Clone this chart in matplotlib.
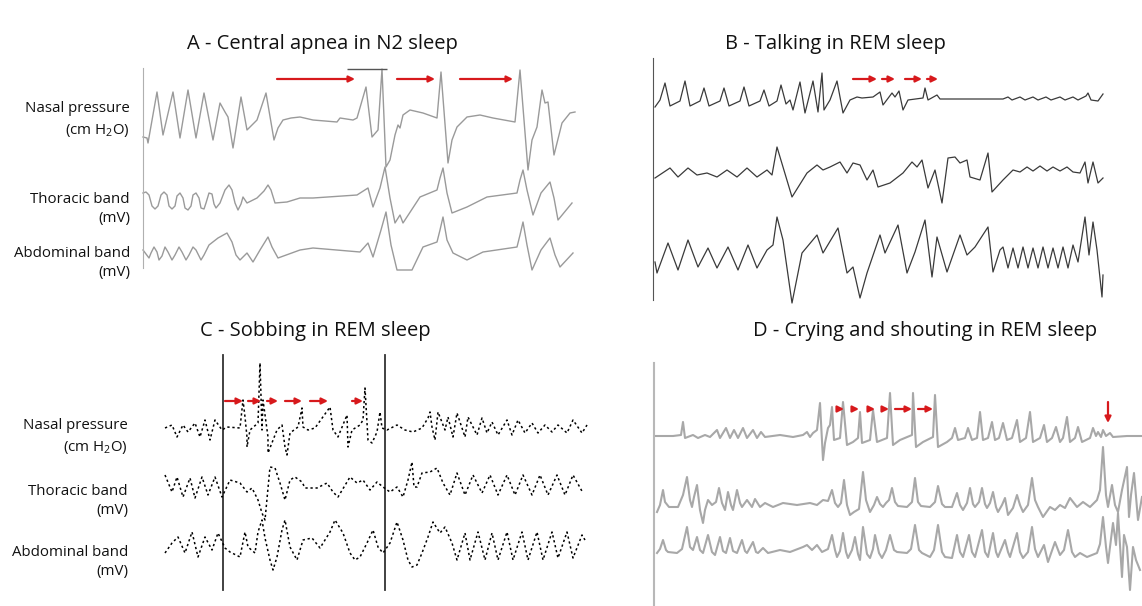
import numpy as np
import matplotlib.pyplot as plt

plt.rcParams['font.family'] = ['Open Sans', 'DejaVu Sans']
plt.rcParams['mathtext.fontset'] = 'custom'
plt.rcParams['mathtext.rm'] = 'Open Sans'

W, H = 1142, 606

# traces: (time s, signal a.u.)
a_nasal = [(0.0, -17), (0.4, -18), (0.5, -23), (1.4, 28), (2.0, -15), (3.0, 28), (3.7, -18),
           (4.5, 30), (5.3, -18), (6.1, 27), (7.0, -20), (7.7, 17), (8.2, 8), (8.5, 3),
           (9.0, -28), (9.8, 23), (10.4, -10), (11.4, 0), (12.3, 27), (13.1, -20), (13.5, -8),
           (14.0, 0), (14.8, 2), (15.7, 3), (17.0, 0), (19.4, -2), (19.7, 2), (21.0, 0),
           (21.4, 2), (22.3, 33), (22.9, -17), (23.5, -10), (23.9, 51), (24.3, -47), (24.7, -40),
           (25.2, -15), (25.5, -5), (25.7, -8), (26.0, 5), (26.7, 10), (28.0, 7), (29.4, 2),
           (29.8, 48), (30.5, -43), (30.9, -20), (31.4, -7), (32.4, 3), (33.7, 5), (35.0, 2),
           (37.2, -2), (37.7, 50), (38.5, -50), (38.9, -20), (39.4, -7), (39.9, 30), (40.2, 17),
           (40.5, 18), (41.1, -35), (41.9, -3), (42.7, 7), (43.2, 8)]
a_thor = [(0.0, 5), (0.3, 6), (0.6, 3), (0.9, -8), (1.2, -11), (1.5, -8), (1.8, 3), (2.1, 6),
          (2.4, 3), (2.6, -8), (2.9, -11), (3.2, -8), (3.4, 2), (3.7, 5), (4.0, 0), (4.2, -10),
          (4.5, -12), (4.8, -8), (5.0, 3), (5.3, 5), (5.6, 0), (5.8, -10), (6.1, -11), (6.3, -5),
          (6.6, 5), (6.9, 4), (7.1, -6), (7.3, -10), (7.7, -5), (8.2, 8), (8.6, 13), (8.9, 8),
          (9.2, -5), (9.5, -12), (9.8, -6), (10.0, 1), (10.4, -5), (11.4, 0), (12.1, 7),
          (12.5, 13), (12.8, 8), (13.2, -5), (14.4, -4), (15.7, 0), (17.0, 0), (21.4, 3),
          (22.5, 10), (23.0, -9), (23.7, 10), (24.2, 31), (24.7, 0), (25.2, -25), (25.7, -17),
          (26.0, -25), (27.7, 1), (29.4, 8), (29.7, 20), (30.0, 30), (30.4, 5), (30.9, -15),
          (32.4, -9), (34.4, 1), (37.4, 5), (37.7, 18), (38.0, 28), (38.4, 8), (39.0, -17),
          (39.8, 5), (40.7, 16), (41.1, 0), (41.5, -22), (42.9, -5)]
a_abd = [(0.0, 0), (0.3, -4), (0.6, -8), (0.8, -3), (1.1, 3), (1.4, -2), (1.6, -10), (1.9, -6),
         (2.2, 3), (2.5, -2), (2.9, -10), (3.2, -5), (3.6, 3), (3.9, -2), (4.3, -10), (4.6, -5),
         (5.0, 3), (5.3, 0), (5.8, -10), (6.1, -5), (6.6, 5), (7.5, 12), (8.4, 17), (8.9, 8),
         (9.3, -5), (9.7, -10), (10.4, -3), (11.0, -12), (11.7, 0), (12.5, 13), (12.9, 3),
         (13.5, -8), (15.7, 0), (17.0, 2), (21.7, -2), (22.5, 7), (23.0, -7), (23.8, 20),
         (24.3, 38), (24.8, 5), (25.4, -20), (26.9, -20), (28.0, 3), (29.4, 8), (29.7, 20),
         (30.0, 33), (30.4, 10), (31.0, -3), (32.4, -10), (34.0, -2), (37.4, 3), (37.7, 15),
         (38.0, 28), (38.4, 5), (38.9, -20), (39.8, 0), (40.7, 12), (41.2, -5), (41.7, -17),
         (43.0, -3)]

b_nasal = [(0.2, -7), (0.7, 0), (1.2, 17), (1.7, -6), (2.7, -1), (3.2, 19), (3.7, -6), (4.7, -1),
           (5.1, 12), (5.6, -6), (6.7, -1), (7.1, 12), (7.6, -6), (8.7, -1), (9.1, 13), (9.6, -6),
           (10.7, -1), (11.1, 10), (11.6, -6), (12.4, -1), (12.8, 15), (13.3, -4), (13.7, 0),
           (14.0, -10), (14.7, 18), (15.2, -13), (16.0, 19), (16.5, -12), (16.9, 27), (17.1, -10),
           (17.7, 0), (18.4, 19), (19.0, -13), (19.7, 0), (20.4, 3), (20.9, 2), (22.0, 3),
           (22.7, 8), (23.0, -5), (23.9, 7), (24.2, 3), (24.6, 9), (25.0, -10), (25.5, 0),
           (27.0, 2), (27.2, 12), (27.5, 0), (28.4, 5), (28.7, 1), (35.0, 1), (35.5, 3),
           (35.9, 0), (36.7, 3), (37.2, 0), (38.0, 3), (38.5, 0), (39.3, 3), (39.8, 0),
           (40.7, 3), (41.2, 0), (42.0, 3), (42.5, 0), (43.3, 4), (43.5, 7), (43.8, 0),
           (44.5, -1), (45.0, 6)]
b_thor = [(0.2, 0), (1.7, 10), (2.5, 1), (3.5, 10), (4.4, 3), (5.4, 5), (6.4, 1), (7.4, 8),
          (8.4, 1), (9.4, 10), (10.4, 1), (11.4, 8), (11.9, 3), (12.4, 31), (13.9, -19),
          (15.4, 5), (16.4, 13), (17.0, 8), (17.7, 11), (18.7, 16), (19.4, 5), (20.0, 15),
          (20.7, 13), (21.4, -2), (22.0, 8), (22.5, -9), (23.7, -5), (25.0, 5), (25.9, 16),
          (26.4, 11), (26.9, 18), (27.5, -10), (28.2, 8), (28.9, -25), (29.5, 20), (30.2, 21),
          (30.7, 15), (31.4, 18), (31.7, 1), (32.7, -2), (33.5, 25), (33.9, -14), (35.0, -2),
          (36.0, 8), (36.7, 6), (37.4, 11), (38.0, 7), (38.7, 12), (39.4, 7), (40.0, 11),
          (40.7, 7), (41.4, 11), (42.0, 6), (42.7, 5), (43.2, 16), (43.5, -5), (44.0, 16),
          (44.5, -5), (45.0, 0)]
b_abd = [(0.2, -2), (0.4, -13), (1.5, 17), (2.5, -10), (3.5, 20), (4.5, -7), (5.5, 12),
         (6.4, -8), (7.5, 13), (8.5, -10), (9.5, 15), (10.4, -8), (11.4, 10), (12.0, 15),
         (12.4, 43), (13.0, 20), (13.9, -43), (14.9, 7), (16.4, 25), (17.0, 7), (18.5, 32),
         (19.4, -13), (20.0, -7), (20.7, -38), (21.4, -13), (22.7, 25), (23.2, 7), (24.5, 35),
         (25.4, -13), (26.2, 8), (27.2, 40), (27.9, -17), (28.4, 23), (29.4, -12), (30.7, 25),
         (31.4, 5), (32.2, 13), (33.5, 33), (34.0, -12), (34.7, 10), (35.0, 13), (35.5, -8),
         (36.0, 12), (36.5, -8), (37.0, 13), (37.5, -8), (38.0, 12), (38.5, -8), (39.0, 13),
         (39.5, -8), (40.0, 12), (40.5, -8), (41.0, 13), (41.5, -8), (42.0, 15), (42.5, -2),
         (43.2, 43), (43.6, 5), (44.0, 38), (44.4, 10), (44.9, -37), (45.0, -15)]

c_nasal = [(0.5, 0), (1.2, 3), (1.7, -9), (2.3, 3), (2.8, -4), (3.5, 5), (4.0, -9), (4.5, 8),
           (5.0, -12), (5.5, 8), (6.2, -2), (6.7, 1), (8.0, 0), (8.3, 28), (8.5, 11), (8.7, -9),
           (8.7, -19), (9.0, -2), (9.8, 5), (10.0, 65), (10.2, -2), (10.3, 28), (10.8, -9),
           (10.8, -25), (11.7, -2), (12.2, 3), (12.5, -19), (12.7, -27), (13.0, -5), (13.8, 1),
           (14.2, 20), (14.3, 1), (14.8, -2), (15.5, 0), (17.0, 21), (17.3, -2), (17.8, -9),
           (18.7, 13), (18.8, -19), (19.2, -2), (20.0, 3), (20.3, 8), (20.5, 40), (20.8, -12),
           (21.2, -15), (21.7, -4), (22.0, 16), (22.2, 0), (22.7, -2), (23.7, 3), (24.5, -2),
           (25.3, -4), (26.2, 0), (26.8, 10), (27.0, 16), (27.2, 1), (27.5, -12), (27.8, 16),
           (28.5, -2), (28.8, 11), (29.3, -9), (29.7, 15), (30.5, -9), (30.8, 11), (31.7, -7),
           (32.2, 10), (32.7, -5), (33.2, 6), (33.8, -7), (34.7, 8), (35.2, -7), (35.8, 8),
           (36.5, -5), (37.2, 5), (37.8, -5), (38.5, 3), (39.2, -4), (39.8, 3), (40.7, -5),
           (41.3, 8), (42.2, -5), (42.7, 3)]
c_thor = [(0.5, 10), (1.2, -7), (1.7, 8), (2.3, -12), (3.0, 7), (3.5, -13), (4.2, 8), (4.8, -10),
          (5.5, 8), (6.2, -12), (7.0, 5), (8.0, 2), (8.7, -7), (9.2, -3), (9.8, -15),
          (10.2, -28), (10.5, -35), (11.0, 18), (11.5, 17), (12.0, 2), (12.5, -15), (13.0, 5),
          (13.5, 8), (14.2, 3), (14.5, -3), (15.7, -3), (16.7, 2), (17.3, -7), (17.8, -12),
          (18.7, 3), (19.0, 8), (19.7, 2), (20.3, 5), (21.0, -5), (21.7, 3), (22.3, -2),
          (23.0, -7), (23.7, -2), (24.3, -12), (24.8, 5), (25.2, 23), (25.4, -2), (25.7, -2),
          (26.2, 12), (27.0, 13), (27.7, 17), (28.3, 2), (29.0, -10), (29.7, 12), (30.5, -10),
          (31.3, 10), (32.2, -8), (33.0, 10), (33.8, -10), (34.7, 10), (35.5, -10), (36.3, 10),
          (37.2, -10), (38.0, 10), (38.8, -10), (39.7, 10), (40.5, -10), (41.3, 10), (42.3, -8)]
c_abd = [(0.5, -8), (1.2, 2), (1.8, 8), (2.5, -8), (3.2, 13), (3.8, -12), (4.5, 8), (5.2, -5),
         (5.8, 12), (6.5, -3), (7.0, -7), (8.0, -12), (8.5, 13), (8.8, -2), (9.5, -8), (9.8, 13),
         (10.2, 25), (10.5, 7), (11.0, -15), (11.3, -25), (11.7, -12), (12.2, 15), (12.5, 25),
         (13.0, -2), (13.7, -15), (14.3, 5), (15.2, 7), (16.0, -3), (17.0, 13), (17.5, 25),
         (18.3, 12), (19.0, -8), (19.5, -15), (20.0, -12), (20.7, 2), (21.3, 15), (21.8, -2),
         (22.3, -8), (23.0, 2), (23.7, 23), (24.3, 5), (24.8, -15), (25.2, -22), (25.7, -20),
         (26.2, -8), (26.8, 8), (27.3, 23), (28.0, 12), (28.5, 18), (29.2, 2), (29.7, -15),
         (30.5, 12), (31.0, -15), (31.8, 13), (32.5, -15), (33.2, 12), (33.8, -15), (34.7, 13),
         (35.3, -15), (36.2, 13), (36.8, -15), (37.7, 13), (38.3, -15), (39.2, 13), (39.8, -13),
         (40.7, 13), (41.3, -13), (42.2, 10), (42.5, 5)]

d_nasal = [(0.1, 0), (1.9, 0), (2.7, 1), (2.9, 14), (3.1, -2), (3.9, 1), (4.4, -2), (5.1, 1),
           (5.6, -1), (6.3, 6), (6.6, -2), (7.2, 8), (7.6, -2), (8.0, 6), (8.4, -2), (8.9, 8),
           (9.3, -2), (9.9, 6), (10.3, -2), (10.7, 4), (11.1, -1), (12.6, 1), (13.9, -1),
           (14.9, 1), (15.3, 4), (15.6, -1), (15.9, 3), (16.3, 6), (16.6, 33), (16.9, -24),
           (17.1, -7), (17.4, 8), (17.6, 11), (17.8, 29), (18.0, -4), (18.6, -2), (18.9, 34),
           (19.3, -9), (19.9, -6), (20.4, -2), (20.6, 24), (20.8, -7), (21.6, -4), (21.9, 26),
           (22.3, -6), (23.3, -2), (23.6, 43), (23.9, -9), (24.6, -4), (25.8, 1), (25.9, 43),
           (26.2, -11), (26.9, -6), (27.9, -1), (28.1, 41), (28.4, -11), (29.3, -6), (29.8, -2),
           (30.1, 8), (30.4, -4), (31.1, -2), (31.4, 8), (31.8, -4), (32.3, -2), (32.6, 24),
           (32.9, -4), (33.4, -2), (33.8, 14), (34.1, -4), (34.5, -2), (34.9, 13), (35.3, -4),
           (35.8, -2), (36.3, 16), (36.6, -6), (37.2, -2), (37.6, 24), (37.9, -6), (38.6, -2),
           (39.0, 11), (39.3, -6), (39.8, -2), (40.2, 9), (40.6, -6), (40.9, -2), (41.3, 19),
           (41.6, -6), (42.1, -2), (42.4, 9), (42.8, -6), (43.6, -2), (43.9, 8), (44.2, 0),
           (44.4, 4), (44.7, -1), (44.9, 6), (45.2, 0), (45.6, 3), (45.9, -1), (47.3, 0),
           (48.8, 0)]
d_thor = [(0.3, -7), (0.6, 0), (0.9, 15), (1.1, 3), (1.5, -2), (2.4, -2), (2.9, 10), (3.3, 28),
          (3.6, 5), (3.8, -2), (4.0, 8), (4.3, 20), (4.6, -5), (4.9, -18), (5.1, -5), (5.4, 5),
          (5.8, 0), (6.2, 3), (6.5, 17), (6.8, 2), (7.1, -5), (7.4, 13), (7.7, 0), (7.9, -5),
          (8.3, 15), (8.6, 2), (8.8, -2), (9.3, 5), (9.8, -2), (10.1, 6), (10.6, -2), (11.1, 2),
          (11.9, -2), (12.9, 2), (14.3, 0), (15.6, 2), (16.3, 0), (16.9, 5), (17.4, 4),
          (17.8, 15), (18.1, 2), (18.4, -2), (18.7, 2), (19.0, 25), (19.3, 0), (19.6, -10),
          (20.0, -7), (20.5, -4), (20.9, 33), (21.2, 5), (21.6, -7), (22.0, 0), (22.3, 8),
          (22.6, 1), (22.9, -2), (23.2, 2), (23.5, 5), (23.8, 17), (24.1, 3), (24.4, -1),
          (25.3, -2), (25.8, 3), (26.1, 27), (26.4, 3), (26.7, -1), (27.6, -2), (28.1, 3),
          (28.4, 19), (28.8, 1), (29.1, -2), (29.8, -2), (30.3, 12), (30.6, 0), (30.9, -5),
          (31.3, 2), (31.6, 17), (31.9, 1), (32.1, -2), (32.5, 3), (32.8, 17), (33.1, 1),
          (33.3, -3), (33.6, 2), (33.9, 13), (34.2, -2), (34.4, -7), (34.8, 0), (35.1, 7),
          (35.4, -10), (35.9, -3), (36.3, 10), (36.6, 0), (36.9, -7), (37.4, 0), (37.8, 27),
          (38.1, 5), (38.4, -2), (38.9, -12), (39.6, -2), (40.1, -5), (40.6, 0), (41.1, -3),
          (41.6, 7), (42.3, -2), (42.9, 3), (43.6, -2), (44.3, 5), (44.6, 15), (44.9, 58),
          (45.2, 10), (45.4, -2), (45.8, 20), (46.1, 0), (46.4, -7), (46.8, 15), (47.3, 38),
          (47.5, -12), (47.7, 10), (48.0, 32), (48.4, -15), (48.8, 8)]
d_abd = [(0.3, -1), (0.6, 3), (0.9, 12), (1.2, 2), (1.4, 0), (2.3, -1), (2.8, 3), (3.3, 25),
         (3.6, 5), (3.9, 2), (4.3, 15), (4.6, 2), (4.9, -1), (5.4, 17), (5.8, 0), (6.1, -3),
         (6.6, 15), (6.9, 1), (7.2, -1), (7.6, 14), (7.9, 1), (8.3, -1), (8.8, 12), (9.1, 1),
         (9.3, -1), (9.9, 10), (10.2, 0), (10.4, -1), (10.9, 4), (11.4, -1), (12.6, 2),
         (13.6, 0), (14.9, 5), (15.3, 7), (15.8, 2), (16.3, 7), (16.8, 0), (17.4, 3),
         (17.8, 17), (18.1, 2), (18.3, -5), (18.6, 1), (18.9, 19), (19.2, 0), (19.4, -6),
         (19.8, 2), (20.1, 15), (20.4, -2), (20.6, -8), (20.9, 25), (21.3, -2), (21.6, -6),
         (21.9, 3), (22.1, 17), (22.5, -1), (22.8, -6), (23.2, 2), (23.6, 17), (24.0, 2),
         (24.3, 0), (25.3, -1), (25.7, 3), (26.1, 27), (26.5, 2), (26.8, -1), (27.6, -5),
         (28.0, 2), (28.4, 27), (28.8, 0), (29.1, -5), (29.8, -6), (30.3, 17), (30.6, 0),
         (30.9, -5), (31.5, 17), (31.8, 0), (32.1, -5), (32.8, 22), (33.1, 0), (33.4, -5),
         (33.9, 19), (34.2, 0), (34.4, -5), (35.1, 12), (35.4, 0), (35.6, -5), (36.3, 19),
         (36.6, 0), (36.9, -6), (37.4, 0), (37.8, 25), (38.1, 3), (38.4, -5), (39.0, 7),
         (39.4, -10), (40.1, 10), (40.6, -3), (41.0, 2), (41.4, 22), (41.8, 0), (42.1, -5),
         (42.6, -1), (43.3, -5), (44.3, -1), (44.6, 8), (44.9, 35), (45.2, 5), (45.4, -11),
         (45.9, 29), (46.2, 7), (46.4, 39), (46.8, -25), (47.0, 17), (47.3, 5), (47.6, -38),
         (47.9, 5), (48.2, -8), (48.6, -18)]

# event arrows (start s, end s)
a_arrows = [(13.4, 21.2), (25.4, 29.2), (31.7, 37.0)]
b_arrows = [(20.0, 22.4), (22.9, 24.2), (25.2, 26.9), (27.4, 28.5)]
c_arrows = [(6.5, 8.3), (8.8, 10.1), (10.7, 11.8), (12.5, 14.2), (15.0, 16.8), (19.2, 20.3)]
d_arrows = [(18.3, 19.0), (19.8, 20.5), (21.4, 22.1), (22.8, 23.5), (24.1, 25.8), (26.4, 27.9)]

titles = ['A - Central apnea in N2 sleep', 'B - Talking in REM sleep',
          'C - Sobbing in REM sleep', 'D - Crying and shouting in REM sleep']
channels = ['Nasal pressure\n(cm H$_\\mathregular{2}$O)', 'Thoracic band\n(mV)',
            'Abdominal band\n(mV)']

RED = '#d7191c'
fig = plt.figure(figsize=(W / 100, H / 100), dpi=100)


def panel(x0, x1, y0, y1):
    ax = fig.add_axes([x0 / W, 1 - y1 / H, (x1 - x0) / W, (y1 - y0) / H])
    ax.set_xlim(0, (x1 - x0) / 10)
    ax.set_ylim(0, y1 - y0)
    ax.set_xticks([])
    ax.set_yticks([])
    for s in ['top', 'right', 'bottom', 'left']:
        ax.spines[s].set_visible(False)
    ax.patch.set_alpha(0)
    return ax


def trace(ax, pts, off, **kw):
    p = np.array(pts, dtype=float)
    ax.plot(p[:, 0], p[:, 1] + off, clip_on=False, solid_joinstyle='round', **kw)


def arrows(ax, spans, y):
    for a, b in spans:
        ax.annotate('', xy=(b, y), xytext=(a, y), annotation_clip=False,
                    arrowprops=dict(arrowstyle='-|>', color=RED, lw=1.6,
                                    mutation_scale=9, shrinkA=0, shrinkB=0))


# A
ax = panel(143, 580, 60, 280)
ax.spines['left'].set_visible(True)
ax.spines['left'].set_bounds(12, 212)
ax.spines['left'].set_color('#b0b0b0')
for pts, off in [(a_nasal, 160), (a_thor, 82), (a_abd, 30)]:
    trace(ax, pts, off, color='#9a9a9a', lw=1.0)
ax.hlines(211, 20.4, 24.4, color='#555555', lw=1.0)
arrows(ax, a_arrows, 201)

# B
ax = panel(653, 1110, 55, 305)
ax.spines['left'].set_visible(True)
ax.spines['left'].set_bounds(5, 247)
ax.spines['left'].set_color('#555555')
for pts, off in [(b_nasal, 205), (b_thor, 127), (b_abd, 45)]:
    trace(ax, pts, off, color='#3a3a3a', lw=0.9)
arrows(ax, b_arrows, 226)

# C
ax = panel(160, 595, 345, 600)
for x in [6.3, 22.5]:
    ax.plot([x, x], [10, 245], color='#333333', lw=1.3)
for pts, off in [(c_nasal, 172), (c_thor, 115), (c_abd, 55)]:
    trace(ax, pts, off, color='black', lw=1.1, ls=(0, (1.5, 1.8)))
arrows(ax, c_arrows, 199)

# D
ax = panel(654, 1142, 360, 606)
ax.spines['left'].set_visible(True)
ax.spines['left'].set_bounds(0, 243)
ax.spines['left'].set_color('#b8b8b8')
ax.spines['left'].set_linewidth(1.5)
for pts, off in [(d_nasal, 170), (d_thor, 101), (d_abd, 54)]:
    trace(ax, pts, off, color='#a8a8a8', lw=1.5)
arrows(ax, d_arrows, 197)
ax.annotate('', xy=(45.4, 183), xytext=(45.4, 204), annotation_clip=False,
            arrowprops=dict(arrowstyle='-|>', color=RED, lw=1.6,
                            mutation_scale=9, shrinkA=0, shrinkB=0))

# titles and channel labels
for t, (x, y) in zip(titles, [(322, 44), (835, 44), (315, 331), (925, 331)]):
    fig.text(x / W, 1 - y / H, t, ha='center', va='center', fontsize=14.5, color='#111111')

for right, ys in [(130, [120, 209, 263]), (128, [437, 501, 562])]:
    for lab, y in zip(channels, ys):
        fig.text(right / W, 1 - y / H, lab, ha='right', va='center', fontsize=10.8,
                 color='#111111', linespacing=1.45)

fig.savefig('out.png', dpi=100)
